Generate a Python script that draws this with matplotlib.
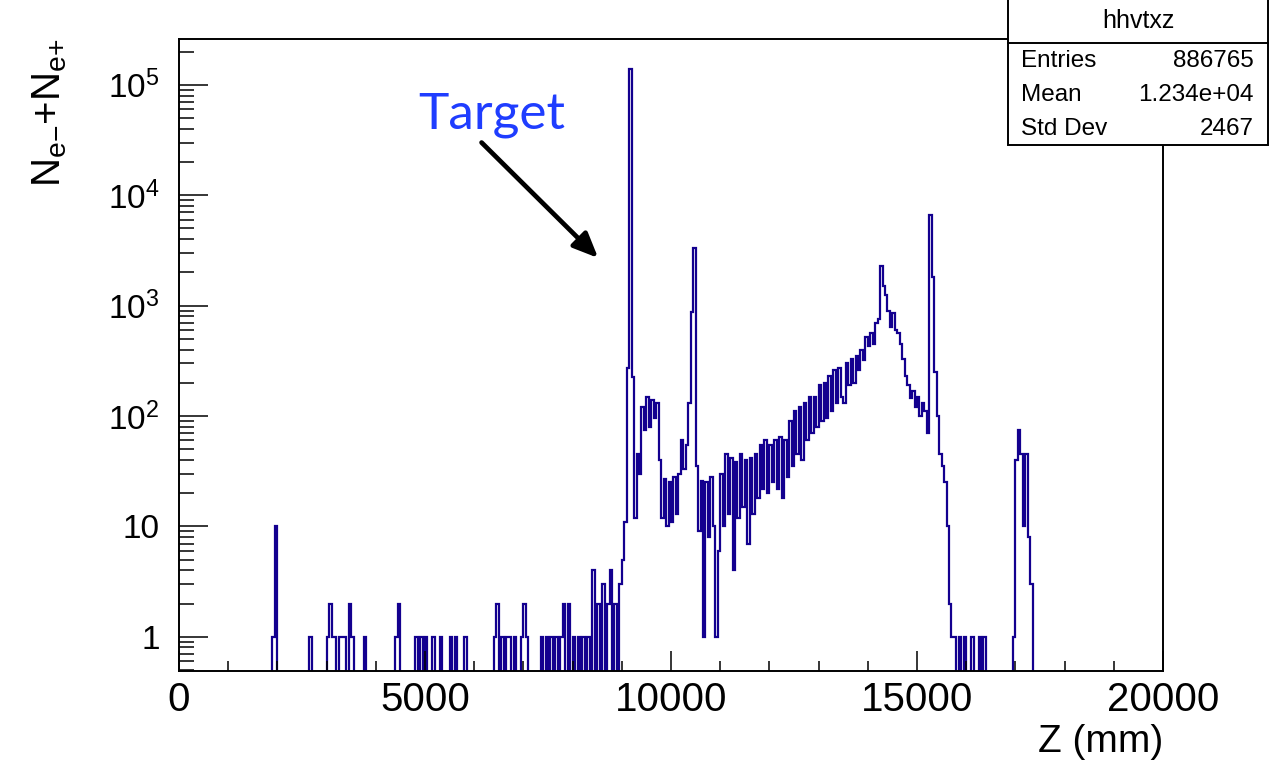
import numpy as np
import matplotlib
matplotlib.use("Agg")
import matplotlib.pyplot as plt
from matplotlib.patches import Rectangle

plt.rcParams['font.family'] = ['Liberation Sans', 'DejaVu Sans']
plt.rcParams['mathtext.fontset'] = 'custom'
plt.rcParams['mathtext.rm'] = 'Liberation Sans'

# histogram binning (mm)
bin_width = 50
z_max = 20000

# isolated entries below the target region: bin left edge (mm), counts
sparse_z = [1900, 1950, 2650, 3000, 3050, 3100, 3150, 3250, 3300, 3350,
            3450, 3500, 3750, 4400, 4450, 4800, 4900, 5000, 5150, 5300,
            5500, 5600, 5800]
sparse_n = [1, 10, 1, 1, 2, 1, 1, 1, 1, 1,
            2, 1, 1, 1, 2, 1, 1, 1, 1, 1,
            1, 1, 1]

# contiguous counts, 50 mm bins starting at core_start
core_start = 6350
core_counts = [
    0, 1, 2, 0, 1, 0, 1, 1, 0, 1,                      # 6350
    0, 0, 1, 2, 1, 0, 0, 0, 0, 0,                      # 6850
    1, 0, 1, 0, 1, 0, 1, 0, 1, 2,                      # 7350
    0, 2, 0, 1, 0, 1, 0, 1, 0, 1,                      # 7850
    0, 4, 0, 2, 0, 3, 0, 2, 4, 0,                      # 8350
    2, 0, 3, 5, 11, 270, 140000, 225, 12, 45,          # 8850
    30, 120, 75, 150, 80, 140, 95, 130, 40, 12,        # 9350
    27, 10, 25, 11, 28, 13, 30, 60, 33, 55,            # 9850
    130, 880, 3300, 35, 9, 26, 1, 25, 8, 28,           # 10350
    10, 1, 6, 30, 10, 45, 13, 42, 4, 38,               # 10850
    12, 45, 15, 40, 7, 42, 13, 45, 18, 55,             # 11350
    22, 60, 20, 55, 25, 60, 22, 65, 18, 60,            # 11850
    28, 90, 35, 110, 45, 120, 40, 130, 60, 150,        # 12350
    70, 150, 80, 190, 90, 200, 95, 230, 110, 260,      # 12850
    130, 270, 150, 130, 300, 190, 330, 200, 350, 260,  # 13350
    400, 320, 520, 430, 560, 450, 700, 750, 2300, 1500,  # 13850
    1250, 890, 640, 850, 600, 560, 450, 330, 230, 190,   # 14350
    145, 170, 120, 150, 100, 130, 110, 70, 6600, 1800,   # 14850
    250, 100, 45, 35, 25, 10, 2, 1, 1, 0,              # 15350
    1, 0, 1, 0, 0, 1, 0, 0, 1, 0,                      # 15850
    1, 0, 0, 0, 0, 0, 0, 0, 0, 0,                      # 16350
    0, 0, 1, 40, 75, 45, 10, 45, 8, 3,                 # 16850
    0,                                                 # 17350
]

# stat box
stat_title = "hhvtxz"
stat_names = ["Entries", "Mean", "Std Dev"]
stat_values = ["886765", "1.234e+04", "2467"]

edges = np.arange(0, z_max + bin_width, bin_width)
counts = np.zeros(len(edges) - 1)
for z, n in zip(sparse_z, sparse_n):
    counts[z // bin_width] = n
i0 = core_start // bin_width
counts[i0:i0 + len(core_counts)] = core_counts

W, H = 1272, 771
fig = plt.figure(figsize=(W / 100, H / 100), dpi=100)
ax = fig.add_axes([179 / W, 1 - 671 / H, (1163 - 179) / W, (671 - 39) / H])

line_col = '#13008f'
ax.stairs(np.where(counts > 0, counts, 1e-3), edges, color=line_col,
          lw=1.6, baseline=None)

ax.set_yscale('log')
ax.set_xlim(0, z_max)
ax.set_ylim(0.49, 2.6e5)

ax.set_xticks([0, 5000, 10000, 15000, 20000])
ax.set_xticks(np.arange(0, 20001, 1000), minor=True)
ax.set_yticks([1, 10, 100, 1e3, 1e4, 1e5])
ax.set_yticklabels(['1', '10', r'$\mathregular{10^{2}}$', r'$\mathregular{10^{3}}$',
                    r'$\mathregular{10^{4}}$', r'$\mathregular{10^{5}}$'])
ax.tick_params(axis='x', which='major', direction='in', length=14.4, width=1.1,
               labelsize=29, pad=7)
ax.tick_params(axis='x', which='minor', direction='in', length=7.2, width=1.1)
ax.tick_params(axis='y', which='major', direction='in', length=21, width=1.1,
               labelsize=24, pad=14)
ax.tick_params(axis='y', which='minor', direction='in', length=11, width=1.1)
for s in ax.spines.values():
    s.set_linewidth(1.4)

ax.set_xlabel('Z (mm)', fontsize=28, loc='right', labelpad=4)
ax.set_ylabel(r'$\mathregular{N_{e{-}}{+}N_{e{+}}}$', fontsize=29, loc='top',
              labelpad=28)

# annotation
ax.text(6362, 4.0e4, 'Target', color='#1f3dff', fontsize=37, family='Lato',
        ha='center', va='baseline')
ax.annotate('', xy=(8520, 2700), xytext=(6150, 3.0e4),
            arrowprops=dict(arrowstyle='-|>,head_length=1.5,head_width=0.65',
                            color='black', lw=3.4, shrinkA=0, shrinkB=0))

# stat box
bx0, by0, bx1, by1 = 1008 / W, 1 - 145 / H, 1268 / W, 1.0
fig.patches.append(Rectangle((bx0, by0), bx1 - bx0, by1 - by0 + 0.01,
                             transform=fig.transFigure, facecolor='white',
                             edgecolor='black', lw=1.4, zorder=5))
fig.lines.append(plt.Line2D([bx0, bx1], [1 - 43 / H, 1 - 43 / H],
                            transform=fig.transFigure, color='black', lw=1.4,
                            zorder=6))
fig.text((bx0 + bx1) / 2, 1 - 21 / H, stat_title, ha='center', va='center',
         fontsize=18, zorder=7)
for k, (nm, val) in enumerate(zip(stat_names, stat_values)):
    yy = 1 - (61 + k * 34) / H
    fig.text(1021 / W, yy, nm, ha='left', va='center', fontsize=17.5, zorder=7)
    fig.text(1254 / W, yy, val, ha='right', va='center', fontsize=17.5, zorder=7)

fig.savefig('out.png', dpi=100)
